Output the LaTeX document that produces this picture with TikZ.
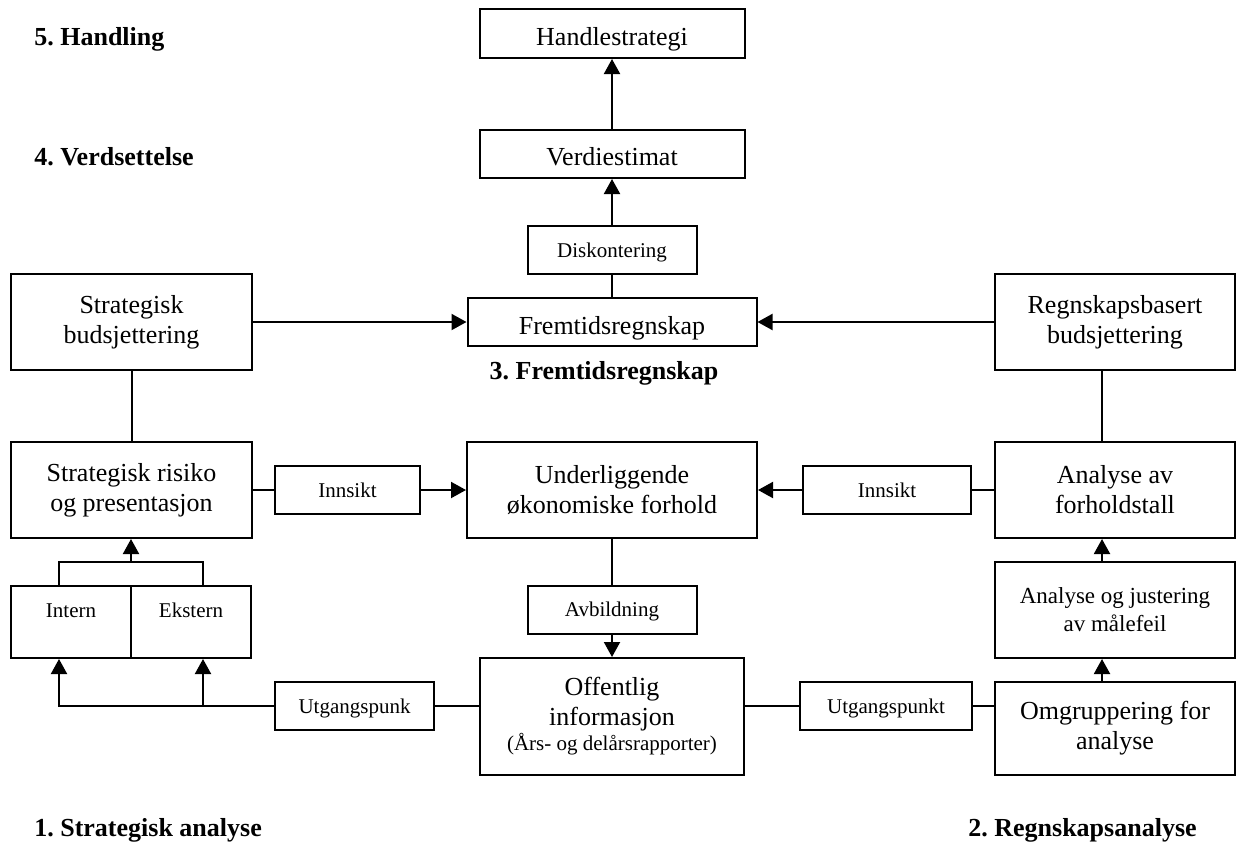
\documentclass[tikz,border=0pt]{standalone}
\usepackage{fontspec}
\setmainfont{Liberation Serif}
\usetikzlibrary{arrows.meta,positioning}
\frenchspacing
\tikzset{
  boks/.style={draw, align=center, inner sep=0pt, font=\fontsize{26}{30}\selectfont},
  enkel/.style={boks, text height=36pt, text depth=12pt},
  liten/.style={boks, font=\fontsize{21}{25}\selectfont, text height=31pt, text depth=17pt},
  fase/.style={font=\fontsize{26}{30}\selectfont\bfseries},
  str/.style 2 args={minimum width=#1pt, minimum height=#2pt},
  pil/.style={-{Triangle[length=15pt,width=16pt]}}
}

\begin{document}
\begin{tikzpicture}[x=1pt, y=-1pt, line width=2pt]
  \useasboundingbox (0,0) rectangle (1236,846);

  % fasene
  \foreach \n/\y/\t in {h/45/{5. Handling}, v/165/{4. Verdsettelse}, s/836/{1. Strategisk analyse}}{
    \node[fase, anchor=base west] (fase\n) at (30,\y) {\t};
  }
  \node[fase, anchor=base] (fasef) at (604,379) {3. Fremtidsregnskap};
  \node[fase, anchor=base east] (fasere) at (1201,836) {2. Regnskapsanalyse};

  % midten
  \node[enkel, minimum width=265pt, text depth=13pt] (hs) at (612,33.5) {Handlestrategi};
  \node[enkel, minimum width=265pt, text height=35pt, text depth=13pt] (ve) at (612,154) {Verdiestimat};
  \node[liten, minimum width=169pt] (disk) at (612,250) {Diskontering};
  \node[enkel, minimum width=289pt] (fr) at (612,322) {Fremtidsregnskap};
  \node[boks, str={290}{96}] (ul) at (612,490) {Underliggende\\økonomiske forhold};
  \node[liten, minimum width=169pt] (avb) at (612,609.5) {Avbildning};
  \node[boks, str={264}{117}] (of) at (612,716.5)
    {Offentlig\\informasjon\\[-5pt]{\fontsize{21}{25}\selectfont (Års- og delårsrapporter)}};

  % strategisk analyse
  \node[boks, str={241}{96}] (sb) at (131.5,322) {Strategisk\\budsjettering};
  \node[boks, str={241}{96}] (sr) at (131.5,490) {Strategisk risiko\\og presentasjon};
  \node[liten, minimum width=145pt] (inn1) at (347.5,490) {Innsikt};
  \node[liten, minimum width=120pt, text depth=41pt] (intern) at (71,622) {Intern};
  \node[liten, minimum width=120pt, text depth=41pt] (ekstern) at (191,622) {Ekstern};
  \node[liten, minimum width=159pt] (ut1) at (354.5,706) {Utgangspunk};

  % regnskapsanalyse
  \node[boks, str={240}{96}] (rb) at (1115,322) {Regnskapsbasert\\budsjettering};
  \node[boks, str={240}{96}] (af) at (1115,490) {Analyse av\\forholdstall};
  \node[liten, minimum width=168pt] (inn2) at (887,490) {Innsikt};
  \node[boks, str={240}{96}, font=\fontsize{23}{28}\selectfont] (aj) at (1115,610) {Analyse og justering\\av målefeil};
  \node[liten, minimum width=172pt] (ut2) at (886,706) {Utgangspunkt};
  \node[boks, str={240}{93}] (om) at (1115,728.5) {Omgruppering for\\analyse};

  % piler og linjer
  \draw[pil] (ve) -- (hs);
  \draw[pil] (disk) -- (ve);
  \draw (fr) -- (disk);
  \draw[pil] (sb) -- (fr);
  \draw[pil] (rb) -- (fr);
  \draw (sb) -- (sr);
  \draw (sr) -- (inn1);
  \draw[pil] (inn1) -- (ul);
  \draw (af) -- (inn2);
  \draw[pil] (inn2) -- (ul);
  \draw (ul) -- (avb);
  \draw[pil] (avb) -- (of);

  \coordinate (brk) at (131,562);
  \coordinate (ik) at ([xshift=-12pt]intern.north);
  \coordinate (ek) at ([xshift=12pt]ekstern.north);
  \draw (ik) |- (brk) -| (ek);
  \draw[pil] (brk) -- (brk |- sr.south);
  \draw[pil] (ut1) -| ([xshift=-12pt]intern.south);
  \draw[pil] (ek |- ut1) -- ([xshift=12pt]ekstern.south);
  \draw (ut1) -- (ut1 -| of.west);
  \draw (ut2 -| of.east) -- (ut2);
  \draw (ut2) -- (ut2 -| om.west);

  \draw ([xshift=-13pt]rb.south) -- ([xshift=-13pt]af.north);
  \draw[pil] ([xshift=-13pt]aj.north) -- ([xshift=-13pt]af.south);
  \draw[pil] ([xshift=-13pt]om.north) -- ([xshift=-13pt]aj.south);
\end{tikzpicture}
\end{document}
